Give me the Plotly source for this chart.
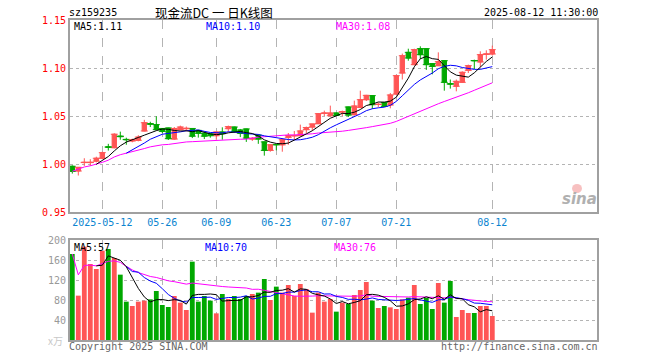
import plotly.graph_objects as go
import pandas as pd

# ---------------- data ----------------
tick_idx = [5, 15, 24, 34, 44, 54, 70]
tick_text = ["2025-05-12", "05-26", "06-09", "06-23", "07-07", "07-21", "08-12"]

opens = [0.9976, 0.9927, 1.0015, 1.0015, 1.0030, 1.0060, 1.0178, 1.0170, 1.0290, 1.0256,
         1.0240, 1.0247, 1.0344, 1.0420, 1.0410, 1.0370, 1.0375, 1.0260, 1.0358, 1.0368,
         1.0370, 1.0350, 1.0320, 1.0313, 1.0295, 1.0333, 1.0368, 1.0385, 1.0354, 1.0365,
         1.0260, 1.0300, 1.0230, 1.0142, 1.0203, 1.0200, 1.0278, 1.0293, 1.0295, 1.0358,
         1.0385, 1.0420, 1.0528, 1.0503, 1.0531, 1.0542, 1.0594, 1.0514, 1.0590, 1.0670,
         1.0712, 1.0620, 1.0639, 1.0615, 1.0729, 1.0948, 1.1163, 1.1035, 1.1201, 1.1201,
         1.1045, 1.1024, 1.1076, 1.0835, 1.0810, 1.0851, 1.0976, 1.1077, 1.1063, 1.1143,
         1.1146]
highs = [0.9986, 0.9965, 1.0060, 1.0050, 1.0076, 1.0128, 1.0210, 1.0320, 1.0337, 1.0274,
         1.0264, 1.0300, 1.0460, 1.0440, 1.0497, 1.0372, 1.0378, 1.0385, 1.0400, 1.0390,
         1.0372, 1.0355, 1.0340, 1.0315, 1.0333, 1.0382, 1.0400, 1.0388, 1.0365, 1.0367,
         1.0280, 1.0310, 1.0232, 1.0200, 1.0208, 1.0264, 1.0323, 1.0344, 1.0410, 1.0390,
         1.0417, 1.0530, 1.0556, 1.0608, 1.0533, 1.0556, 1.0596, 1.0660, 1.0764, 1.0720,
         1.0714, 1.0640, 1.0641, 1.0740, 1.0930, 1.1150, 1.1201, 1.1201, 1.1226, 1.1203,
         1.1047, 1.1163, 1.1078, 1.0880, 1.0880, 1.0965, 1.1035, 1.1087, 1.1174, 1.1184,
         1.1233]
lows = [0.9900, 0.9880, 0.9980, 0.9980, 1.0017, 1.0050, 1.0140, 1.0163, 1.0253, 1.0200,
        1.0226, 1.0236, 1.0340, 1.0385, 1.0350, 1.0320, 1.0250, 1.0253, 1.0350, 1.0340,
        1.0270, 1.0275, 1.0260, 1.0274, 1.0253, 1.0253, 1.0337, 1.0330, 1.0280, 1.0230,
        1.0240, 1.0210, 1.0087, 1.0128, 1.0142, 1.0128, 1.0200, 1.0253, 1.0295, 1.0323,
        1.0347, 1.0417, 1.0500, 1.0497, 1.0500, 1.0500, 1.0490, 1.0504, 1.0580, 1.0656,
        1.0573, 1.0594, 1.0594, 1.0580, 1.0722, 1.0880, 1.1076, 1.1028, 1.1094, 1.0980,
        1.0934, 1.1024, 1.0764, 1.0785, 1.0757, 1.0844, 1.0948, 1.0990, 1.1010, 1.1087,
        1.1130]
closes = [0.9924, 0.9965, 1.0018, 1.0018, 1.0060, 1.0118, 1.0175, 1.0310, 1.0285, 1.0253,
          1.0253, 1.0280, 1.0430, 1.0415, 1.0358, 1.0340, 1.0264, 1.0370, 1.0385, 1.0372,
          1.0290, 1.0320, 1.0290, 1.0295, 1.0333, 1.0316, 1.0389, 1.0340, 1.0320, 1.0270,
          1.0268, 1.0260, 1.0142, 1.0200, 1.0200, 1.0253, 1.0295, 1.0297, 1.0344, 1.0380,
          1.0417, 1.0524, 1.0531, 1.0531, 1.0507, 1.0545, 1.0510, 1.0604, 1.0670, 1.0715,
          1.0618, 1.0622, 1.0600, 1.0719, 1.0920, 1.1128, 1.1104, 1.1191, 1.1139, 1.1035,
          1.1017, 1.1066, 1.0851, 1.0833, 1.0861, 1.0955, 1.1024, 1.1076, 1.1139, 1.1146,
          1.1191]
volumes = [172, 88.7, 186.7, 152, 142, 178.7, 182, 164, 130.7, 76.7,
           68, 76.7, 78.7, 81.3, 98, 70, 66, 88, 74.7, 60,
           156.7, 76.7, 88, 78.7, 53.3, 92, 82, 88, 82, 88,
           92, 94.7, 122, 80, 106.7, 94.7, 110, 88, 112, 102,
           54.7, 94.7, 76.7, 82, 56.7, 74.7, 72, 90, 100, 116,
           78.7, 64, 68, 65.3, 62, 81.3, 84.7, 110, 72, 84,
           62, 114, 74.7, 118, 46, 60, 54, 54, 68, 68,
           48]

price_ticks = [0.95, 1.00, 1.05, 1.10, 1.15]
price_tick_text = ["0.95", "1.00", "1.05", "1.10", "1.15"]
vol_ticks = [40, 80, 120, 160, 200]
vol_tick_text = ["40", "80", "120", "160", "200"]

header_code = "sz159235"
header_title = "现金流DC 一 日K线图"
header_time = "2025-08-12 11:30:00"
price_ma_labels = ["MA5:1.11", "MA10:1.10", "MA30:1.08"]
vol_ma_labels = ["MA5:57", "MA10:70", "MA30:76"]

# ---------------- derived ----------------
n = len(closes)
assert len(opens) == len(highs) == len(lows) == len(volumes) == n
idx = list(range(n))
RED = "#ff5555"
GREEN = "#00a800"
up = [c >= o for o, c in zip(opens, closes)]
cols = [RED if u else GREEN for u in up]

cs = pd.Series(closes)
vs = pd.Series(volumes)
ma5 = cs.rolling(5).mean()
ma10 = cs.rolling(10).mean()
ma30 = cs.rolling(30, min_periods=1).mean()
vma5 = vs.rolling(5).mean()
vma10 = vs.rolling(10).mean()
vma30 = vs.rolling(30, min_periods=1).mean()

MONO = "DejaVu Sans Mono"
SL, SR, ST, SB = 70, 597, 20, 340          # plot box in page pixels
W, H = 660, 360
L, T = SL, ST
R = W - SR
B = H - SB
PW, PH = W - L - R, H - T - B


def px(x):
    return (x - SL) / PW


def py(y):
    return (SB - y) / PH


fig = go.Figure()

# wicks
for flag, col in [(True, RED), (False, GREEN)]:
    xs, ys = [], []
    for i in idx:
        if up[i] == flag:
            xs += [i, i, None]
            ys += [lows[i], highs[i], None]
    fig.add_trace(go.Scatter(x=xs, y=ys, mode="lines", line=dict(color=col, width=1),
                             xaxis="x", yaxis="y", hoverinfo="skip"))

# bodies
fig.add_trace(go.Bar(x=idx, y=[abs(c - o) for o, c in zip(opens, closes)],
                     base=[min(o, c) for o, c in zip(opens, closes)],
                     width=0.72, marker=dict(color=cols, line=dict(color=cols, width=1)),
                     xaxis="x", yaxis="y"))
# open/close ticks so that doji crosses stay visible
fig.add_trace(go.Scatter(x=idx + idx, y=opens + closes, mode="markers",
                         marker=dict(symbol="line-ew", size=5, color=cols + cols,
                                     line=dict(color=cols + cols, width=1)),
                         xaxis="x", yaxis="y", hoverinfo="skip"))

# price MAs
for s, c in [(ma30, "#ff00ff"), (ma10, "#0000ff"), (ma5, "#000000")]:
    fig.add_trace(go.Scatter(x=idx, y=s, mode="lines", line=dict(color=c, width=1),
                             xaxis="x", yaxis="y"))

# volume bars
fig.add_trace(go.Bar(x=idx, y=volumes, width=0.8, marker=dict(color=cols, line=dict(width=0)),
                     xaxis="x2", yaxis="y2"))
for s, c in [(vma30, "#ff00ff"), (vma10, "#0000ff"), (vma5, "#000000")]:
    fig.add_trace(go.Scatter(x=idx, y=s, mode="lines", line=dict(color=c, width=1),
                             xaxis="x2", yaxis="y2"))

xr = [(SL - 72.3) / 6, (SR - 72.3) / 6]
frame = dict(showline=True, linecolor="#a0a0a0", linewidth=2, mirror=True, zeroline=False, ticks="")

fig.update_layout(
    width=W, height=H, margin=dict(l=L, r=R, t=T, b=B, autoexpand=False),
    plot_bgcolor="white", paper_bgcolor="white", showlegend=False,
    barmode="overlay",
    xaxis=dict(domain=[0, 1], range=xr, anchor="y", tickvals=tick_idx, ticktext=tick_text,
               showgrid=True, gridcolor="#b4b4b4", griddash="dash", gridwidth=1,
               tickfont=dict(family=MONO, size=10, color="#0a84d0"), **frame),
    yaxis=dict(domain=[py(212), 1], range=[0.95, 1.15], tickvals=price_ticks, ticktext=price_tick_text,
               showgrid=True, gridcolor="#b4b4b4", griddash="dot", gridwidth=1,
               tickfont=dict(family=MONO, size=10, color="#ff0000"), **frame),
    xaxis2=dict(domain=[0, 1], range=xr, anchor="y2", tickvals=tick_idx, showticklabels=False,
                showgrid=True, gridcolor="#b4b4b4", griddash="dash", gridwidth=1, **frame),
    yaxis2=dict(domain=[0, py(240)], range=[0, 200], tickvals=vol_ticks, ticktext=vol_tick_text,
                showgrid=True, gridcolor="#b4b4b4", griddash="dot", gridwidth=1,
                tickfont=dict(family=MONO, size=10, color="#999999"), **frame),
)

ann = []


def add(text, x, y, anchor="left", size=10, color="#000000", family=MONO, **kw):
    ann.append(dict(text=text, x=px(x), y=py(y), xref="paper", yref="paper",
                    xanchor=anchor, yanchor="middle", showarrow=False, borderpad=0,
                    font=dict(family=family, size=size, color=color, **kw)))


add(header_code, 68, 13)
add(header_title, 214, 12.5, anchor="center", size=12.5, family="Noto Sans CJK SC")
add(header_time, 599, 13, anchor="right")
for t, x, c in zip(price_ma_labels, [73, 205, 335], ["#000000", "#0000ff", "#ff00ff"]):
    add(t, x, 27, color=c)
for t, x, c in zip(vol_ma_labels, [73, 204, 333], ["#000000", "#0000ff", "#ff00ff"]):
    add(t, x, 247, color=c)
add("x万", 64, 340, anchor="right", color="#c8c8c8", family="Noto Sans CJK SC")
add("Copyright 2025 SINA.COM", 68, 346, color="#666666")
add("http://finance.sina.com.cn", 599, 346, anchor="right", color="#666666")
add("sina", 598, 199, anchor="right", size=15, color="#b0b0b0", family="DejaVu Sans",
    weight="bold", style="italic")
fig.update_layout(annotations=ann)

fig.add_shape(type="circle", xref="paper", yref="paper",
              x0=px(572), x1=px(582), y0=py(193), y1=py(184),
              fillcolor="rgba(240,140,140,0.55)", line=dict(width=0))

fig.write_html("out.html", config={"displayModeBar": False},
               post_script="document.body.style.margin='0px';")
